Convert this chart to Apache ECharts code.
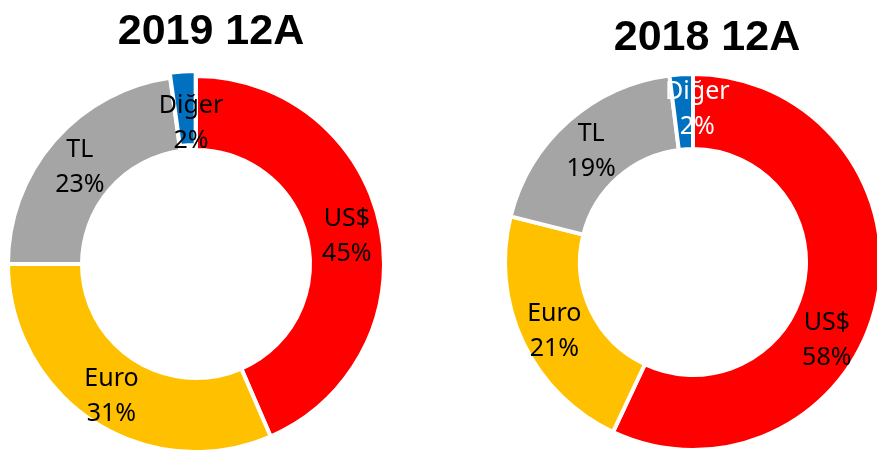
<!DOCTYPE html>
<html>
<head>
<meta charset="utf-8">
<script src="https://cdn.jsdelivr.net/npm/echarts@6/dist/echarts.min.js"></script>
<style>
  html, body { margin: 0; padding: 0; background: #fff; }
  #main { width: 877px; height: 450px; }
</style>
</head>
<body>
<div id="main"></div>
<script>
var categories = ["US$", "Euro", "TL", "Diğer"];
var colors = ["#ff0000", "#ffc000", "#a5a5a5", "#0070c0"];
// slice sizes as measured on the picture
var values2019 = [43.5, 31.5, 22.8, 2.2];
var values2018 = [57.0, 21.9, 19.1, 2.0];
// percentages printed on the labels
var labels2019 = [45, 31, 23, 2];
var labels2018 = [58, 21, 19, 2];
var titles = ["2019 12A", "2018 12A"];

var myChart = echarts.init(document.getElementById("main"));

function buildData(values, labels) {
  return values.map(function (v, i) {
    return {
      name: categories[i],
      value: v,
      pct: labels[i],
      itemStyle: { color: colors[i] }
    };
  });
}

var labelStyle = {
  show: true,
  position: "inside",
  formatter: function (p) { return p.name + "\n" + p.data.pct + "%"; },
  color: "#000",
  fontFamily: "Noto Sans",
  fontSize: 25,
  lineHeight: 35
};

// small nudges so labels sit where Excel put them
var shift2019 = [[0, 4], [0, 4], [0, 4], [6, 18]];
var shift2018 = [[-16, 45], [0, 4], [0, 4], [14, 1]];

var data2019 = buildData(values2019, labels2019);
data2019[3].selected = true;

var data2018 = buildData(values2018, labels2018);
data2018[3].label = { color: "#fff" };

var titleStyle = { fontFamily: "Liberation Sans", fontWeight: "bold", fontSize: 43, color: "#000" };

var option = {
  animation: false,
  title: [
    { text: titles[0], left: 206, top: 6, textAlign: "center", textStyle: titleStyle },
    { text: titles[1], left: 702, top: 12, textAlign: "center", textStyle: titleStyle }
  ],
  series: [
    {
      type: "pie",
      center: [196, 264],
      radius: [114, 188],
      startAngle: 90,
      selectedMode: "single",
      selectedOffset: 5,
      itemStyle: { borderColor: "#fff", borderWidth: 4 },
      label: labelStyle,
      labelLine: { show: false },
      labelLayout: function (p) {
        return { dx: shift2019[p.dataIndex][0], dy: shift2019[p.dataIndex][1] };
      },
      data: data2019
    },
    {
      type: "pie",
      center: [693, 262],
      radius: [113, 188],
      startAngle: 90,
      itemStyle: { borderColor: "#fff", borderWidth: 4 },
      label: labelStyle,
      labelLine: { show: false },
      labelLayout: function (p) {
        return { dx: shift2018[p.dataIndex][0], dy: shift2018[p.dataIndex][1] };
      },
      data: data2018
    }
  ]
};

myChart.setOption(option);
</script>
</body>
</html>
